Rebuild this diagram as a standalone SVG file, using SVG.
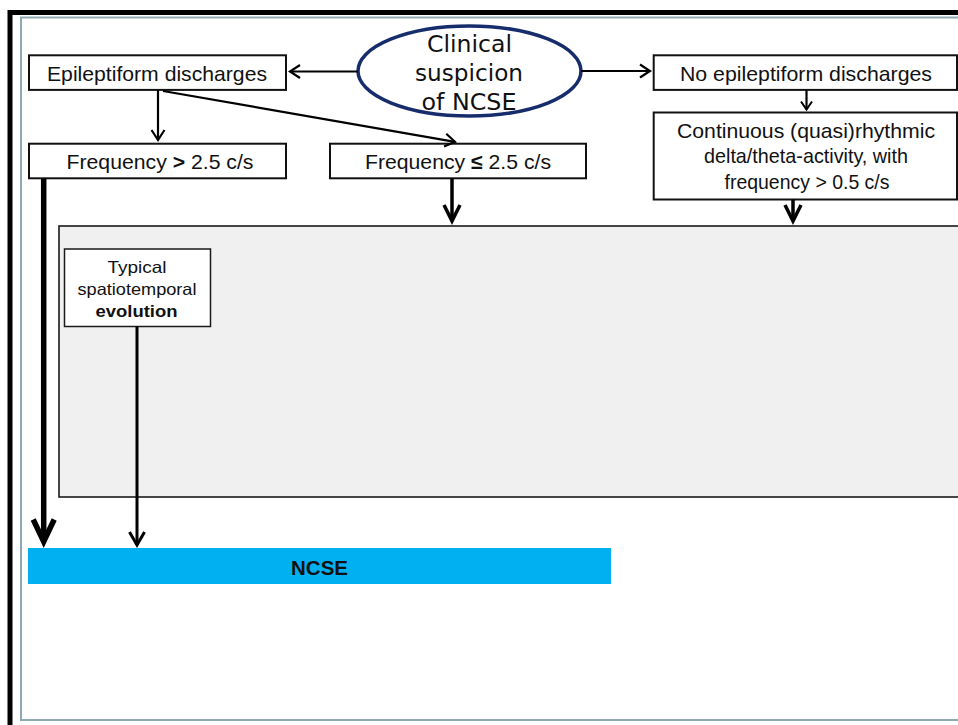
<svg xmlns="http://www.w3.org/2000/svg" width="958" height="725" viewBox="0 0 958 725">
<style>
.box{fill:#fff;stroke:#111;stroke-width:2}
.t{font-family:"Liberation Sans",Arial,Helvetica,sans-serif;font-size:21px;fill:#111;text-anchor:middle}
.tn{font-family:"Liberation Sans",Arial,Helvetica,sans-serif;font-size:20px;fill:#111;text-anchor:middle}
.ts{font-family:"Liberation Sans",Arial,Helvetica,sans-serif;font-size:16.5px;fill:#111;text-anchor:middle}
.te{font-family:"DejaVu Sans",Verdana,sans-serif;font-size:23px;fill:#111;text-anchor:middle}
.b{font-weight:bold}
.c{fill:none;stroke:#000;stroke-linecap:butt}
.mk{fill:none;stroke:#000;stroke-linejoin:miter;stroke-miterlimit:10}
</style>
<defs>
<marker id="mThin" markerUnits="userSpaceOnUse" viewBox="-20 -12 24 24" refX="0" refY="0" markerWidth="24" markerHeight="24" orient="auto" overflow="visible">
<path class="mk" d="M-10,-6.5 L0,0 L-10,6.5" stroke-width="2.2"/>
</marker>
<marker id="mSmall" markerUnits="userSpaceOnUse" viewBox="-20 -12 24 24" refX="0" refY="0" markerWidth="24" markerHeight="24" orient="auto" overflow="visible">
<path class="mk" d="M-8,-5.5 L0,0 L-8,5.5" stroke-width="2"/>
</marker>
<marker id="mMed" markerUnits="userSpaceOnUse" viewBox="-30 -15 34 30" refX="0" refY="0" markerWidth="34" markerHeight="30" orient="auto" overflow="visible">
<path class="mk" d="M-16,-8 L0,0 L-16,8" stroke-width="3.5"/>
</marker>
<marker id="mThick" markerUnits="userSpaceOnUse" viewBox="-34 -18 38 36" refX="0" refY="0" markerWidth="38" markerHeight="36" orient="auto" overflow="visible">
<path class="mk" d="M-22,-10.5 L0,0 L-22,10.5" stroke-width="5.5"/>
</marker>
<marker id="mTyp" markerUnits="userSpaceOnUse" viewBox="-24 -12 28 24" refX="0" refY="0" markerWidth="28" markerHeight="24" orient="auto" overflow="visible">
<path class="mk" d="M-13,-7.5 L0,0 L-13,7.5" stroke-width="3"/>
</marker>
</defs>
<rect width="958" height="725" fill="#fff"/>
<rect x="10" y="12.5" width="960" height="730" fill="none" stroke="#000" stroke-width="5"/>
<rect x="21" y="17.5" width="950" height="702.5" fill="none" stroke="#8fa9b0" stroke-width="2"/>

<g id="node-gray-area">
<rect x="59" y="226" width="910" height="271" fill="#f0f0f0" stroke="#1a1a1a" stroke-width="1.6"/>
</g>
<g id="node-clinical">
<ellipse cx="469.5" cy="71" rx="111.5" ry="45" fill="#fff" stroke="#172d6b" stroke-width="3.5"/>
<text class="te" x="469.5" y="51.7" textLength="85" lengthAdjust="spacingAndGlyphs">Clinical</text>
<text class="te" x="469" y="81" textLength="108" lengthAdjust="spacingAndGlyphs">suspicion</text>
<text class="te" x="469" y="109.5" textLength="95" lengthAdjust="spacingAndGlyphs">of NCSE</text>
</g>
<g id="node-epi">
<rect class="box" x="29" y="55.3" width="257" height="34.6"/>
<text class="t" x="157" y="81" textLength="220" lengthAdjust="spacingAndGlyphs">Epileptiform discharges</text>
</g>
<g id="node-noepi">
<rect class="box" x="653.7" y="55.3" width="303.3" height="34.6"/>
<text class="t" x="806" y="81" textLength="252" lengthAdjust="spacingAndGlyphs">No epileptiform discharges</text>
</g>
<g id="node-freq-high">
<rect class="box" x="29" y="143.7" width="257" height="34.6"/>
<text class="t" x="160" y="168.5" textLength="187" lengthAdjust="spacingAndGlyphs">Frequency <tspan class="b">&gt;</tspan> 2.5 c/s</text>
</g>
<g id="node-freq-low">
<rect class="box" x="330" y="143.7" width="256" height="34.6"/>
<text class="t" x="458" y="168.5" textLength="186" lengthAdjust="spacingAndGlyphs">Frequency <tspan class="b">≤</tspan> 2.5 c/s</text>
</g>
<g id="node-continuous">
<rect class="box" x="653.7" y="112.5" width="303.3" height="87"/>
<text class="t" x="806" y="137.5" textLength="258" lengthAdjust="spacingAndGlyphs">Continuous (quasi)rhythmic</text>
<text class="t" x="806" y="163" textLength="204" lengthAdjust="spacingAndGlyphs">delta/theta-activity, with</text>
<text class="t" x="807" y="188.5" textLength="165" lengthAdjust="spacingAndGlyphs">frequency &gt; 0.5 c/s</text>
</g>
<g id="node-typical">
<rect x="64.5" y="249" width="146" height="77.5" fill="#fff" stroke="#1a1a1a" stroke-width="1.5"/>
<text class="ts" x="137" y="273" textLength="59" lengthAdjust="spacingAndGlyphs">Typical</text>
<text class="ts" x="137" y="294.5" textLength="119" lengthAdjust="spacingAndGlyphs">spatiotemporal</text>
<text class="ts b" x="136.5" y="316.5" textLength="82" lengthAdjust="spacingAndGlyphs">evolution</text>
</g>
<g id="node-ncse">
<rect x="28" y="548" width="583" height="36" fill="#00b0f0"/>
<text class="tn b" x="319.5" y="575" textLength="57" lengthAdjust="spacingAndGlyphs">NCSE</text>
</g>

<g id="connectors">
<path class="c" d="M358,71.5 L290,71.5" stroke-width="2.2" marker-end="url(#mThin)"/>
<path class="c" d="M581,71 L650,71" stroke-width="2.2" marker-end="url(#mThin)"/>
<path class="c" d="M158,90 L158,140" stroke-width="2.2" marker-end="url(#mThin)"/>
<path class="c" d="M163,91 L455,141.8" stroke-width="2.2" marker-end="url(#mThin)"/>
<path class="c" d="M806.5,90 L806.5,109.5" stroke-width="2.2" marker-end="url(#mSmall)"/>
<path class="c" d="M452,178.5 L452,221" stroke-width="3.5" marker-end="url(#mMed)"/>
<path class="c" d="M793,199.5 L793,221" stroke-width="3.5" marker-end="url(#mMed)"/>
<path class="c" d="M43.7,178.5 L43.7,541.5" stroke-width="5.5" marker-end="url(#mThick)"/>
<path class="c" d="M137,326.5 L137,545" stroke-width="3" marker-end="url(#mTyp)"/>
</g>
</svg>
